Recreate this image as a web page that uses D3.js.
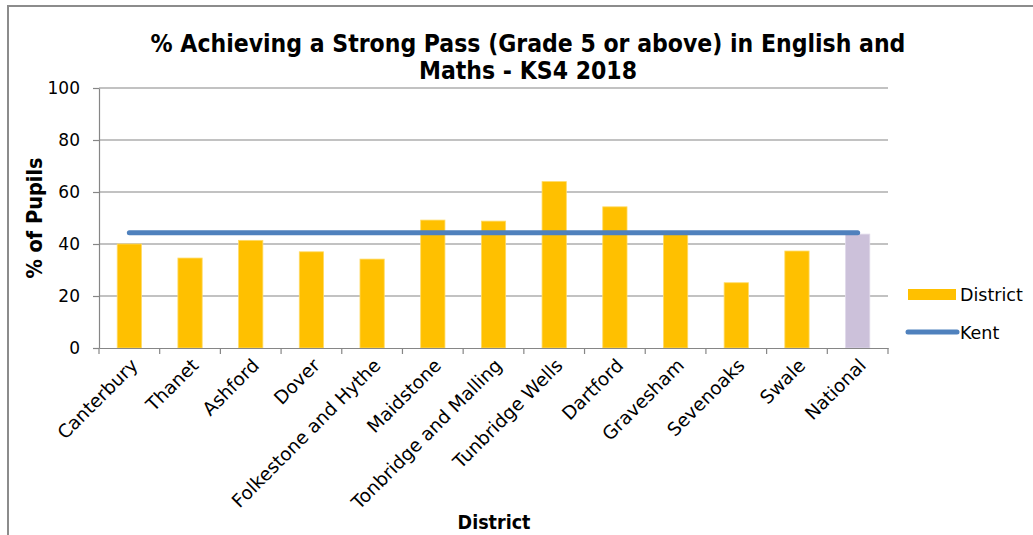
<!DOCTYPE html>
<html><head><meta charset="utf-8">
<script src="https://cdn.jsdelivr.net/npm/d3@7"></script>
<style>
body{margin:0;background:#fff;}
text{font-family:"DejaVu Sans",Verdana,sans-serif;}
.cond{font-family:"DejaVu Sans Condensed","DejaVu Sans",sans-serif;}
</style></head>
<body>
<svg id="chart" width="1033" height="535"></svg>
<script>
const categories = ["Canterbury","Thanet","Ashford","Dover","Folkestone and Hythe","Maidstone","Tonbridge and Malling","Tunbridge Wells","Dartford","Gravesham","Sevenoaks","Swale","National"];
const districtValues = [40.0,34.6,41.4,37.0,34.2,49.2,48.8,64.0,54.3,44.0,25.1,37.3,43.8];
const kentValue = 44.3;
const yTicks = [0,20,40,60,80,100];
const titleLines = ["% Achieving a Strong Pass (Grade 5 or above) in English and","Maths - KS4 2018"];

(function(){
const svg = d3.select("#chart");
const pL = 99, pR = 888, pT = 88, pB = 348;

// outer frame
svg.append("path").attr("d","M8,535 L8,6 L1033,6").attr("fill","none").attr("stroke","#8c8c8c").attr("stroke-width",2);

const x = d3.scaleBand().domain(categories).range([pL,pR]).paddingInner(0.6).paddingOuter(0.3);
const xb = d3.scaleBand().domain(categories).range([pL,pR]);
const y = d3.scaleLinear().domain([0,100]).range([pB,pT]);

// gridlines
svg.append("g").selectAll("line").data(yTicks.filter(d=>d>0)).join("line")
  .attr("x1",pL).attr("x2",pR).attr("y1",d=>y(d)).attr("y2",d=>y(d))
  .attr("stroke","#868686").attr("stroke-width",1.2);

// y axis
const yAxis = svg.append("g").attr("transform",`translate(${pL},0)`)
  .call(d3.axisLeft(y).tickValues(yTicks).tickSize(6).tickPadding(13).tickSizeOuter(0));
yAxis.select(".domain").attr("stroke","#868686").attr("stroke-width",1.2);
yAxis.selectAll(".tick line").attr("stroke","#868686").attr("stroke-width",1.2);
yAxis.selectAll(".tick text").attr("font-size",17).attr("fill","#000")
  .style("font-family","'DejaVu Sans',sans-serif");

// bars
svg.append("g").selectAll("rect").data(categories).join("rect")
  .attr("x",d=>x(d)).attr("width",x.bandwidth())
  .attr("y",(d,i)=>y(districtValues[i])).attr("height",(d,i)=>y(0)-y(districtValues[i]))
  .attr("fill",d=>d==="National"?"#ccc1da":"#ffc000")
  .attr("stroke",d=>d==="National"?"#e0d9ea":"#ffdb66").attr("stroke-width",0.8);

// x axis
const xAxis = svg.append("g").attr("transform",`translate(0,${pB})`)
  .call(d3.axisBottom(xb).tickSize(0).tickFormat(""));
xAxis.select(".domain").attr("stroke","#868686").attr("stroke-width",1.2);
const xTickPos = d3.range(categories.length+1).map(i=>pL+i*xb.step());
svg.append("g").selectAll("line").data(xTickPos).join("line")
  .attr("x1",d=>d).attr("x2",d=>d).attr("y1",pB).attr("y2",pB+6)
  .attr("stroke","#868686").attr("stroke-width",1.2);

// x labels
svg.append("g").selectAll("text").data(categories).join("text")
  .attr("transform",d=>`translate(${xb(d)+xb.bandwidth()/2+5},${pB+14}) rotate(-45)`)
  .attr("text-anchor","end").attr("dy","0.35em").attr("font-size",18.5).text(d=>d);

// Kent line
const line = d3.line().x(d=>d[0]).y(d=>d[1]);
svg.append("path")
  .attr("d",line([[xb(categories[0])+xb.bandwidth()/2, y(kentValue)],[xb(categories[categories.length-1])+xb.bandwidth()/2, y(kentValue)]]))
  .attr("stroke","#4f81bd").attr("stroke-width",5).attr("stroke-linecap","round").attr("fill","none");

// title
svg.append("g").selectAll("text").data(titleLines).join("text").attr("class","cond")
  .attr("x",528).attr("y",(d,i)=>52+i*27).attr("text-anchor","middle")
  .attr("font-size",24.5).attr("font-weight","bold").text(d=>d);

// axis titles
svg.append("text").attr("class","cond").attr("transform","translate(42,218) rotate(-90)").attr("text-anchor","middle")
  .attr("font-size",21.5).attr("font-weight","bold").text("% of Pupils");
svg.append("text").attr("class","cond").attr("x",494).attr("y",529).attr("text-anchor","middle")
  .attr("font-size",19.5).attr("font-weight","bold").text("District");

// legend
svg.append("rect").attr("x",908).attr("y",289).attr("width",48).attr("height",11).attr("fill","#ffc000");
svg.append("text").attr("x",960).attr("y",301).attr("font-size",17.5).text("District");
svg.append("line").attr("x1",908).attr("x2",957).attr("y1",332).attr("y2",332)
  .attr("stroke","#4f81bd").attr("stroke-width",5).attr("stroke-linecap","round");
svg.append("text").attr("x",960).attr("y",339).attr("font-size",17.5).text("Kent");
})();
</script>
</body></html>
